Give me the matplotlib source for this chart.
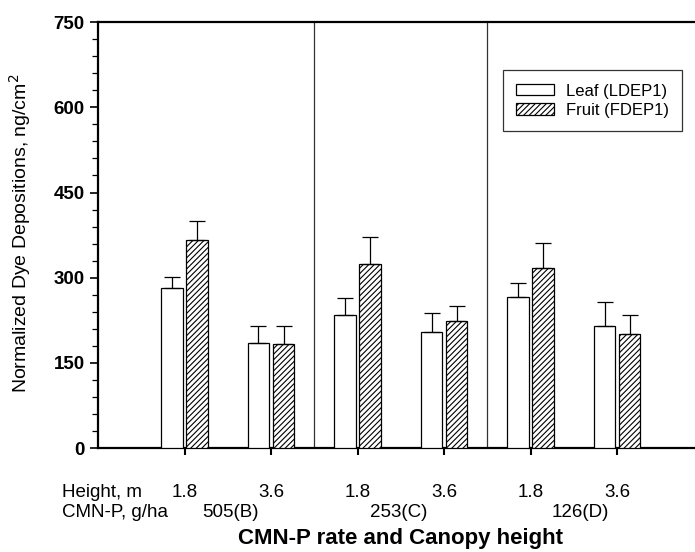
import matplotlib.pyplot as plt
import numpy as np

plt.rcParams['font.family'] = ['Liberation Sans', 'DejaVu Sans']
plt.rcParams['hatch.linewidth'] = 0.8

heights = ["1.8", "3.6", "1.8", "3.6", "1.8", "3.6"]
rates = ["505(B)", "253(C)", "126(D)"]
leaf = [282, 185, 234, 204, 266, 215]
leaf_err = [19, 30, 30, 34, 24, 42]
fruit = [366, 183, 324, 224, 317, 201]
fruit_err = [34, 32, 48, 26, 45, 33]

fig = plt.figure(figsize=(6.95, 5.52), dpi=100)
ax = fig.add_axes([0.141, 0.188, 0.859, 0.772])

x = np.arange(1, len(heights) + 1)
w = 0.25
off = 0.145
ax.bar(x - off, leaf, w, color='white', edgecolor='black', linewidth=0.9,
       yerr=[np.zeros(len(leaf)), leaf_err], capsize=6,
       error_kw=dict(elinewidth=0.9, capthick=0.9), label='Leaf (LDEP1)', zorder=3)
ax.bar(x + off, fruit, w, color='white', edgecolor='black', linewidth=0.9, hatch='//////',
       yerr=[np.zeros(len(fruit)), fruit_err], capsize=6,
       error_kw=dict(elinewidth=0.9, capthick=0.9), label='Fruit (FDEP1)', zorder=3)

# group separators
for xs in [2.5, 4.5]:
    ax.axvline(xs, color='#333333', linewidth=0.9, zorder=1)

ax.set_xlim(0, 6.9)
ax.set_ylim(0, 750)
ax.set_yticks(np.arange(0, 751, 150))
ax.set_yticks(np.arange(0, 751, 30), minor=True)
ax.set_xticks(x)
ax.set_xticklabels([])
ax.tick_params(axis='y', which='major', direction='out', length=6, width=1.2, labelsize=13.5)
ax.tick_params(axis='y', which='minor', direction='out', length=4, width=0.9)
ax.tick_params(axis='x', which='major', direction='out', length=5, width=1.5)
for lab in ax.get_yticklabels():
    lab.set_fontweight('bold')

ax.spines['right'].set_visible(False)
for s in ['left', 'bottom', 'top']:
    ax.spines[s].set_linewidth(1.6)

ax.set_ylabel('Normalized Dye Depositions, ng/cm$^2$', fontsize=14)
ax.yaxis.set_label_coords(-0.109, 0.505)

# text rows under the axis
trans = ax.get_xaxis_transform()
ax.text(-0.42, -0.103, 'Height, m', transform=trans, fontsize=13.5, ha='left', va='center')
for xi, h in zip(x, heights):
    ax.text(xi, -0.103, h, transform=trans, fontsize=13.5, ha='center', va='center')
ax.text(-0.42, -0.150, 'CMN-P, g/ha', transform=trans, fontsize=13.5, ha='left', va='center')
for xr, r in zip([1.53, 3.47, 5.58], rates):
    ax.text(xr, -0.150, r, transform=trans, fontsize=13.5, ha='center', va='center')
ax.text(3.5, -0.211, 'CMN-P rate and Canopy height', transform=trans, fontsize=16,
        fontweight='bold', ha='center', va='center')

leg = ax.legend(loc='upper left', bbox_to_anchor=(0.678, 0.887), borderaxespad=0,
                fontsize=12, frameon=True, fancybox=False, edgecolor='black',
                handlelength=2.3, handleheight=0.66, handletextpad=0.7,
                borderpad=0.8, labelspacing=0.25)
leg.get_frame().set_linewidth(0.9)

fig.savefig('out.png', dpi=100)
